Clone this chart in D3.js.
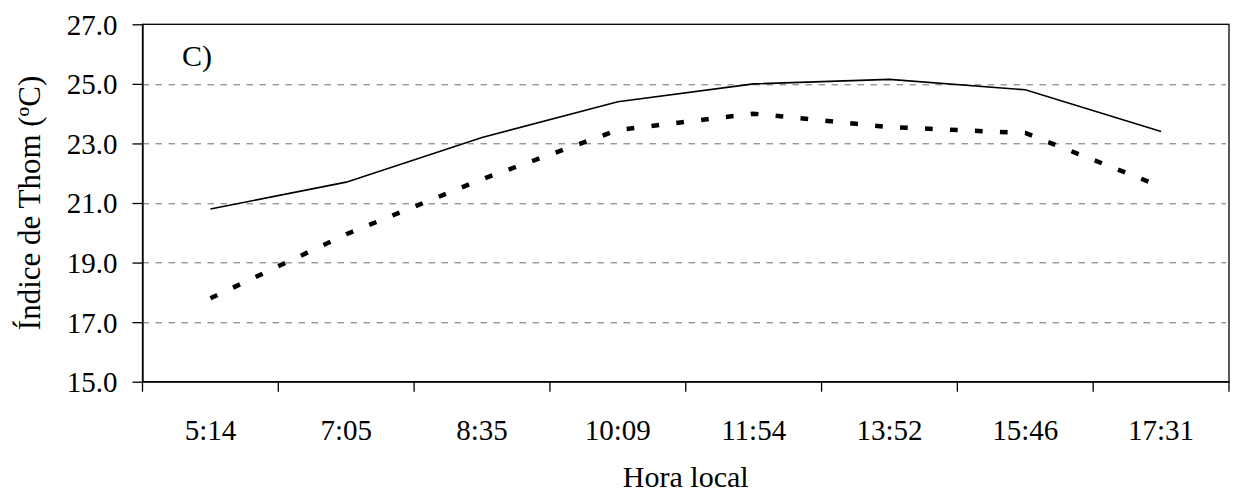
<!DOCTYPE html>
<html>
<head>
<meta charset="utf-8">
<script src="https://cdn.jsdelivr.net/npm/d3@7"></script>
<style>
  body { margin: 0; background: #fff; }
  text { font-family: "Liberation Serif", "Times New Roman", serif; fill: #000; }
</style>
</head>
<body>
<div id="chart"></div>
<script>
// data
var horas = ["5:14", "7:05", "8:35", "10:09", "11:54", "13:52", "15:46", "17:31"];
var serieContinua = [20.8, 21.7, 23.2, 24.4, 25.0, 25.15, 24.8, 23.4];
var seriePunteada = [17.8, 19.95, 21.8, 23.45, 24.0, 23.55, 23.35, 21.55];
var yTicks = [15, 17, 19, 21, 23, 25, 27];
var yGrid = [17, 19, 21, 23, 25];

// set the dimensions and margins of the graph
var W = 1242, H = 494;
var margin = { top: 24.3, right: 13, bottom: 112.3, left: 142.5 },
  width = W - margin.left - margin.right,
  height = H - margin.top - margin.bottom;

var x = d3.scaleBand().domain(horas).range([0, width]).padding(0);
var y = d3.scaleLinear().domain([15, 27]).range([height, 0]);

var svg = d3.select("#chart").append("svg")
  .attr("width", W)
  .attr("height", H)
  .append("g")
  .attr("transform", "translate(" + margin.left + "," + margin.top + ")");

// dashed gridlines
svg.selectAll(".grid").data(yGrid).enter().append("line")
  .attr("x1", 0).attr("x2", width - 3)
  .attr("y1", function (d) { return Math.round(y(d)) + 0.5; })
  .attr("y2", function (d) { return Math.round(y(d)) + 0.5; })
  .attr("stroke", "#6e6e6e")
  .attr("stroke-width", 1)
  .attr("stroke-dasharray", "6.5,6.5");

// plot frame
svg.append("rect")
  .attr("x", 0).attr("y", 0)
  .attr("width", width).attr("height", height)
  .attr("fill", "none")
  .attr("stroke", "#000")
  .attr("stroke-width", 1.3);

// Y axis
var yAxis = svg.append("g")
  .call(d3.axisLeft(y).tickValues(yTicks).tickSize(10).tickSizeOuter(0).tickPadding(15)
    .tickFormat(d3.format(".1f")));
yAxis.select(".domain").attr("stroke", "#000").attr("stroke-width", 1.3);
yAxis.selectAll(".tick line").attr("stroke", "#000").attr("stroke-width", 1.3);
yAxis.selectAll(".tick text")
  .style("font-family", "Liberation Serif")
  .style("font-size", "29px")
  .attr("dy", "0.34em");

// X axis: labels centred in each band, ticks on the band edges
var xAxis = svg.append("g")
  .attr("transform", "translate(0," + height + ")")
  .call(d3.axisBottom(x).tickSize(0).tickSizeOuter(0).tickPadding(58));
xAxis.select(".domain").attr("stroke", "#000").attr("stroke-width", 1.3);
xAxis.selectAll(".tick text")
  .style("font-family", "Liberation Serif")
  .style("font-size", "29px")
  .attr("dy", 0);

var edges = horas.map(function (d) { return x(d); }).concat([width]);
xAxis.selectAll(".edge").data(edges).enter().append("line")
  .attr("x1", function (d) { return d; })
  .attr("x2", function (d) { return d; })
  .attr("y1", 0).attr("y2", 10)
  .attr("stroke", "#000")
  .attr("stroke-width", 1.3);

// define the lines
var lineFor = function (values) {
  return d3.line()
    .x(function (d, i) { return x(horas[i]) + x.bandwidth() / 2; })
    .y(function (d) { return y(d); })(values);
};

svg.append("path")
  .attr("d", lineFor(seriePunteada))
  .attr("fill", "none")
  .attr("stroke", "#000")
  .attr("stroke-width", 4.5)
  .attr("stroke-dasharray", "7.7,17.3");

svg.append("path")
  .attr("d", lineFor(serieContinua))
  .attr("fill", "none")
  .attr("stroke", "#000")
  .attr("stroke-width", 1.6);

// panel letter
svg.append("text")
  .attr("x", 182 - margin.left)
  .attr("y", 66 - margin.top)
  .style("font-size", "30px")
  .text("C)");

// axis titles
svg.append("text")
  .attr("text-anchor", "middle")
  .attr("x", width / 2)
  .attr("y", 487.3 - margin.top)
  .style("font-size", "30px")
  .text("Hora local");

svg.append("text")
  .attr("text-anchor", "middle")
  .attr("transform", "translate(" + (40 - margin.left) + "," + (height / 2) + ") rotate(-90)")
  .style("font-size", "31px")
  .text("Índice de Thom (ºC)");
</script>
</body>
</html>
